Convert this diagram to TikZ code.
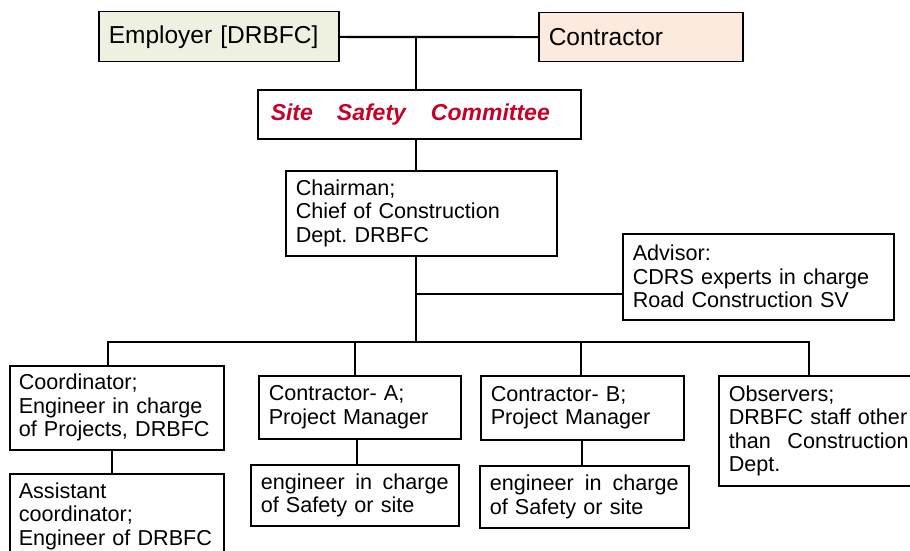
\documentclass[tikz,border=0pt]{standalone}
\usepackage{fontspec}
\setmainfont{Liberation Sans}
\frenchspacing

\definecolor{employerfill}{RGB}{238,241,224}
\definecolor{contractorfill}{RGB}{252,234,222}
\definecolor{committeered}{RGB}{200,0,40}

\begin{document}
\begin{tikzpicture}[x=1pt, y=-1pt,
    orgbox/.style={draw, line width=1.5pt, anchor=north west, align=left,
      inner xsep=10pt, inner ysep=0pt, font=\fontsize{21.6}{23.5}\selectfont},
    topfont/.style={font=\fontsize{24.5}{26}\selectfont},
    link/.style={line width=2.2pt}]

    % page frame
    \clip (0,0) rectangle (910,551);
    \fill[white] (0,0) rectangle (910,551);

    % Top: employer and contractor
    \node[orgbox, topfont, fill=employerfill, text width=220pt, minimum height=50pt] (emp) at (98,11) {Employer [DRBFC]};
    \node[orgbox, topfont, fill=contractorfill, text width=184pt, minimum height=49pt] (con) at (538,12) {Contractor};

    % Committee and chairman
    \node[orgbox, text width=303pt, minimum height=49pt, text=committeered,
      font=\fontsize{23}{24}\selectfont\bfseries\itshape] (ssc) at (257,89)
      {\hspace*{3pt}Site\hspace{24pt}Safety\hspace{25pt}Committee};
    \node[orgbox, text width=251pt, minimum height=85pt] (chair) at (285,170) {Chairman;\\Chief of Construction\\Dept. DRBFC};

    % Advisor
    \node[orgbox, text width=251pt, minimum height=86pt] (adv) at (622,233) {Advisor:\\CDRS experts in charge\\Road Construction SV};

    % Bottom row
    \node[orgbox, inner xsep=9pt, text width=196pt, minimum height=84pt] (coord) at (9,365) {Coordinator;\\Engineer in charge\\of Projects, DRBFC};
    \node[orgbox, inner xsep=9pt, text width=196pt, minimum height=85pt] (asst) at (9,473) {Assistant\\coordinator;\\Engineer of DRBFC};
    \node[orgbox, text width=182pt, minimum height=63pt] (ctra) at (258,375) {Contractor- A;\\Project Manager};
    \node[orgbox, text width=188pt, minimum height=61pt] (enga) at (250,464) {engineer\hfill in\hfill charge\\of Safety or site};
    \node[orgbox, text width=183pt, minimum height=64pt] (ctrb) at (480,375) {Contractor- B;\\Project Manager};
    \node[orgbox, text width=189pt, minimum height=62pt] (engb) at (479,465) {engineer\hfill in\hfill charge\\of Safety or site};
    \node[orgbox, text width=180pt, minimum height=110pt] (obs) at (718,375) {Observers;\\DRBFC staff other\\than\hfill Construction\\Dept.};

    % Spine
    \coordinate (spine) at (416,0);
    \coordinate (bus) at (416,342);
    \draw[link] (emp) -- (con);
    \draw[link] (emp.east -| spine) -- (ssc.north -| spine);
    \draw[link] (ssc.south -| spine) -- (chair.north -| spine);
    \draw[link] (chair.south -| spine) -- (bus);
    \draw[link] ([yshift=-17pt]adv.west) -- ([yshift=-17pt]adv.west -| spine);

    % Bus and drops
    \coordinate (dcoord) at (108,342);
    \coordinate (dctra) at (355,342);
    \coordinate (dctrb) at (581,342);
    \coordinate (dobs) at (809,342);
    \draw[link] (dcoord |- coord.north) -- (dcoord) -- (dobs) -- (dobs |- obs.north);
    \foreach \n in {ctra, ctrb}
      \draw[link] (d\n) -- (d\n |- \n.north);

    % Sub links
    \draw[link] ([xshift=-5pt]coord.south) -- ([xshift=-5pt]coord.south |- asst.north);
    \draw[link] ([xshift=-3pt]ctra.south) -- ([xshift=-3pt]ctra.south |- enga.north);
    \draw[link] (ctrb.south) -- (ctrb.south |- engb.north);

\end{tikzpicture}
\end{document}
